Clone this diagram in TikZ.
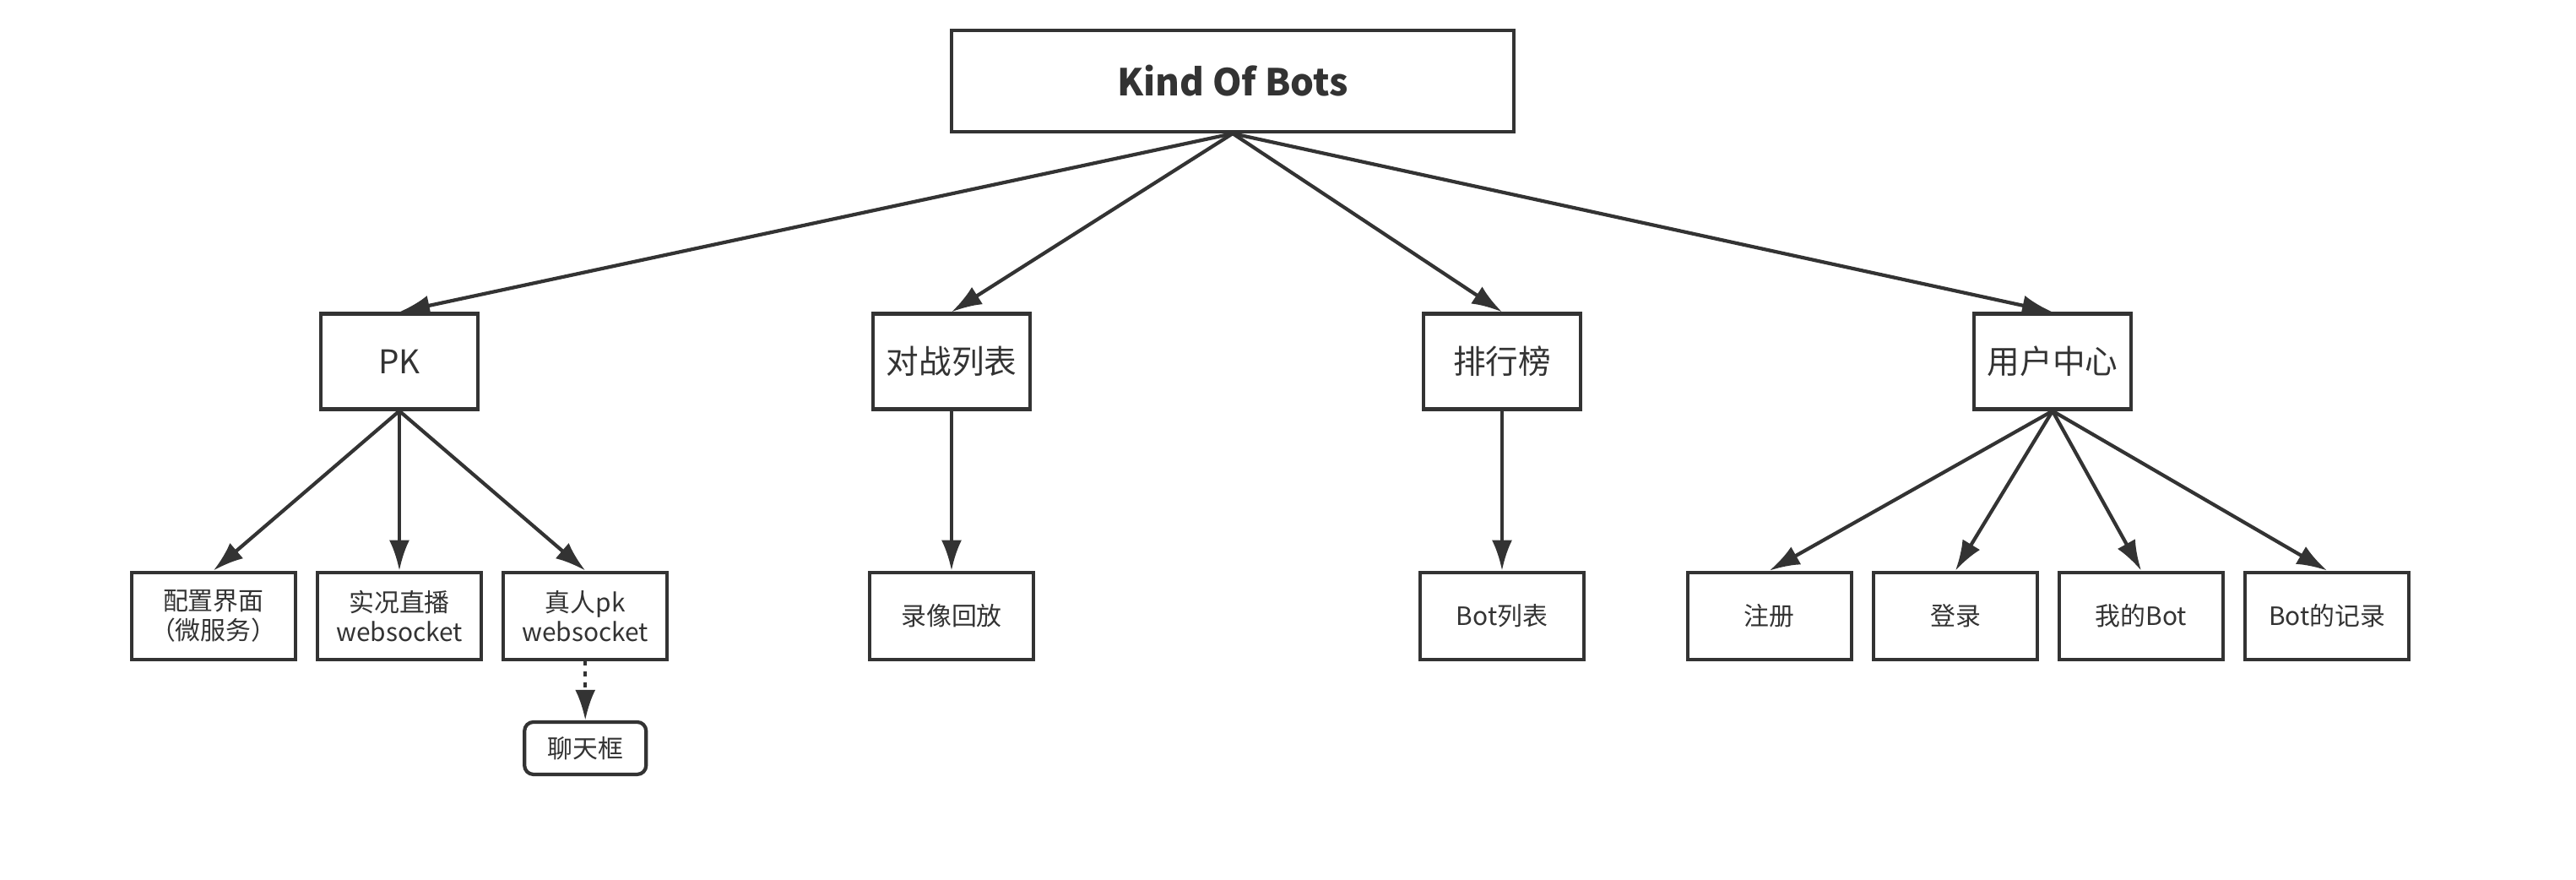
\documentclass[tikz,border=0pt]{standalone}
\usepackage{fontspec}
\setmainfont{Noto Sans CJK SC}
\usepackage{tikz}
\usetikzlibrary{positioning,arrows.meta}
\definecolor{ink}{HTML}{333333}

\begin{document}
\begin{tikzpicture}[color=ink,line width=1.2pt,>={Latex[length=3.6mm,width=2.4mm]},node distance=2.2mm]
\tikzstyle{rootbox}=[draw,minimum width=6.66cm,minimum height=1.2cm,font=\fontsize{12.5}{15}\selectfont\bfseries]
\tikzstyle{sec}=[draw,minimum width=1.86cm,minimum height=1.13cm,font=\fontsize{11}{13}\selectfont]
\tikzstyle{leaf}=[draw,minimum width=1.94cm,minimum height=1.03cm,align=center,font=\fontsize{8.5}{10}\selectfont]
\tikzstyle{chatbox}=[draw,rounded corners=3pt,minimum width=1.44cm,minimum height=0.62cm,font=\fontsize{8.5}{10}\selectfont]
\useasboundingbox (0,0) rectangle (30.51,-10.41);
% top level
\node[rootbox] (kob) at (14.60,-0.96) {Kind Of Bots};
\node[sec] (pk) at (4.73,-4.28) {PK};
\node[sec] (duel) at (11.27,-4.28) {对战列表};
\node[sec] (rank) at (17.79,-4.28) {排行榜};
\node[sec] (user) at (24.31,-4.28) {用户中心};
% PK
\node[leaf,below=1.89cm of pk] (live) {实况直播\\websocket};
\node[leaf,left=of live] (cfg) {配置界面\\（微服务）};
\node[leaf,right=of live] (real) {真人pk\\websocket};
\node[chatbox,below=7mm of real] (chat) {聊天框};
% lists
\node[leaf,below=1.89cm of duel] (replay) {录像回放};
\node[leaf,below=1.89cm of rank] (botl) {Bot列表};
% user
\node[leaf,below=1.89cm of user,xshift=-11.5mm] (login) {登录};
\node[leaf,left=of login] (reg) {注册};
\node[leaf,below=1.89cm of user,xshift=10.5mm] (mybot) {我的Bot};
\node[leaf,right=of mybot] (rec) {Bot的记录};
\foreach \n in {pk,duel,rank,user} \draw[->] (kob.south) -- (\n.north);
\foreach \n in {cfg,live,real} \draw[->] (pk.south) -- (\n.north);
\draw[->] (duel) -- (replay);
\draw[->] (rank) -- (botl);
\foreach \n in {reg,login,mybot,rec} \draw[->] (user.south) -- (\n.north);
\draw[->,dash pattern=on 1.6pt off 2pt] (real) -- (chat);
\end{tikzpicture}
\end{document}
